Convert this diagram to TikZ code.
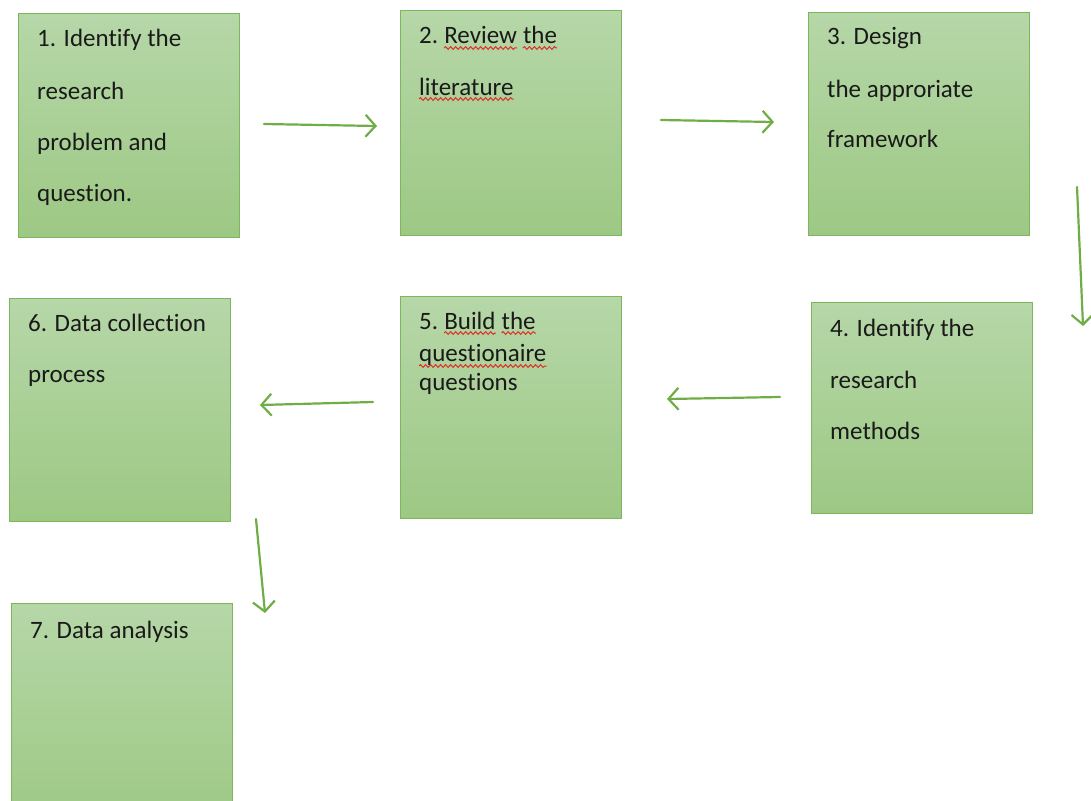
\documentclass[tikz,border=0pt]{standalone}
\usepackage{fontspec}
\setmainfont[Ligatures={NoCommon}]{Carlito}
\usetikzlibrary{arrows.meta,decorations.pathmorphing,calc}

\definecolor{boxtop}{HTML}{B6D7A8}
\definecolor{boxbot}{HTML}{9DC884}
\definecolor{boxline}{HTML}{7DB75B}
\definecolor{arrowgreen}{HTML}{70AD47}
\definecolor{spellred}{HTML}{E0302A}
\definecolor{inktext}{HTML}{1A1A1A}

\tikzset{
  stepbox/.style={draw=boxline, line width=1.2pt, top color=boxtop, bottom color=boxbot,
    minimum width=221pt, minimum height=223pt, inner sep=0pt, anchor=north west},
  steptext/.style={anchor=base west, inner sep=0pt, text=inktext,
    font=\fontsize{25}{30}\selectfont},
  flow/.style={draw=arrowgreen, line width=2.2pt, line cap=round,
    -{Straight Barb[length=10pt,width=22pt,line width=2.2pt]}},
  squiggle/.style={draw=spellred, line width=1pt, decorate,
    decoration={snake, amplitude=1.4pt, segment length=5pt}},
}

\begin{document}
\begin{tikzpicture}[x=1pt,y=-1pt]
  \useasboundingbox (0,0) rectangle (1091,800);
  \clip (0,0) rectangle (1091,800);

  % boxes
  \node[stepbox, minimum height=224pt] (b1) at (18,13) {};
  \node[stepbox, minimum height=225pt] (b2) at (400,10) {};
  \node[stepbox, minimum height=223pt] (b3) at (808,12) {};
  \node[stepbox, minimum height=211pt] (b4) at (811,302) {};
  \node[stepbox, minimum height=222pt] (b5) at (400,296) {};
  \node[stepbox, minimum height=223pt] (b6) at (9,298) {};
  \node[stepbox, minimum height=223pt] (b7) at (11,603) {};

  % box 1
  \node[steptext] (t1a) at (37,47) {1. Identify the};
  \node[steptext] (t1b) at (37,99) {research};
  \node[steptext] (t1c) at (37,150) {problem and};
  \node[steptext] (t1d) at (37,201) {question.};

  % box 2
  \node[steptext] (t2a) at (419,44) {2.};
  \node[steptext] (t2b) at ([xshift=5.7pt]t2a.base east) {Review};
  \node[steptext] (t2c) at ([xshift=5.7pt]t2b.base east) {the};
  \node[steptext] (t2d) at (419,95) {literature};
  \draw[squiggle] ([yshift=-4pt]t2b.base west) -- ([yshift=-4pt]t2b.base east);
  \draw[squiggle] ([yshift=-4pt]t2c.base west) -- ([yshift=-4pt]t2c.base east);
  \draw[squiggle] ([yshift=-4pt]t2d.base west) -- ([yshift=-4pt]t2d.base east);

  % box 3
  \node[steptext] (t3a) at (827,45) {3. Design};
  \node[steptext] (t3b) at (827,97) {the approriate};
  \node[steptext] (t3c) at (827,147) {framework};

  % box 4
  \node[steptext] (t4a) at (830,336) {4. Identify the};
  \node[steptext] (t4b) at (830,388) {research};
  \node[steptext] (t4c) at (830,439) {methods};

  % box 5
  \node[steptext] (t5a) at (419,329) {5.};
  \node[steptext] (t5b) at ([xshift=5.7pt]t5a.base east) {Build};
  \node[steptext] (t5c) at ([xshift=5.7pt]t5b.base east) {the};
  \node[steptext] (t5d) at (419,361) {questionaire};
  \node[steptext] (t5e) at (419,390) {questions};
  \draw[squiggle] ([yshift=-4pt]t5b.base west) -- ([yshift=-4pt]t5b.base east);
  \draw[squiggle] ([yshift=-4pt]t5c.base west) -- ([yshift=-4pt]t5c.base east);
  \draw[squiggle] ([yshift=-5pt]t5d.base west) -- ([yshift=-5pt]t5d.base east);

  % box 6
  \node[steptext] (t6a) at (28,331) {6. Data collection};
  \node[steptext] (t6b) at (28,382) {process};

  % box 7
  \node[steptext] (t7a) at (30,638) {7. Data analysis};

  % free-standing arrow ends
  \coordinate (a1s) at (264,124);  \coordinate (a1e) at (377,126);
  \coordinate (a2s) at (661,120);  \coordinate (a2e) at (774,122);
  \coordinate (a3s) at (1077,187); \coordinate (a3e) at (1083,326);
  \coordinate (a4s) at (780,397);  \coordinate (a4e) at (667,399);
  \coordinate (a5s) at (373,402);  \coordinate (a5e) at (260,405);
  \coordinate (a6s) at (256,519);  \coordinate (a6e) at (265,613);

  \draw[flow] (a1s) -- (a1e);
  \draw[flow] (a2s) -- (a2e);
  \draw[flow] (a3s) -- (a3e);
  \draw[flow] (a4s) -- (a4e);
  \draw[flow] (a5s) -- (a5e);
  \draw[flow] (a6s) -- (a6e);
\end{tikzpicture}
\end{document}
